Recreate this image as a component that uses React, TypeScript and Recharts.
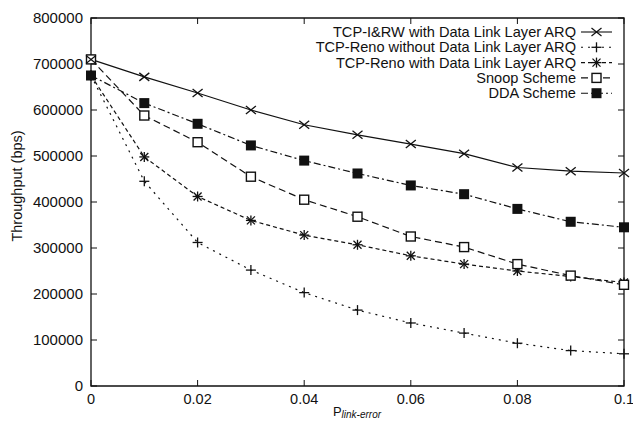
import React from "react";
import { LineChart, Line, XAxis, YAxis, ReferenceArea } from "recharts";

// error probability on the x axis
const pLinkError = [0, 0.01, 0.02, 0.03, 0.04, 0.05, 0.06, 0.07, 0.08, 0.09, 0.1];

// throughput (bps)
const tcpIRW = [710000, 672000, 637000, 600000, 568000, 546000, 526000, 505000, 475000, 467000, 463000];
const renoNoArq = [675000, 445000, 312000, 252000, 203000, 165000, 137000, 115000, 93000, 77000, 70000];
const renoArq = [675000, 498000, 412000, 360000, 328000, 307000, 283000, 265000, 250000, 238000, 225000];
const snoop = [710000, 588000, 530000, 455000, 405000, 368000, 325000, 302000, 265000, 240000, 220000];
const dda = [675000, 615000, 570000, 523000, 490000, 462000, 436000, 417000, 385000, 357000, 345000];

const xTicks = [0, 0.02, 0.04, 0.06, 0.08, 0.1];
const yTicks = [0, 100000, 200000, 300000, 400000, 500000, 600000, 700000, 800000];

type MarkerKind = "cross" | "plus" | "star" | "openSquare" | "square";

interface SeriesDef {
  key: string;
  name: string;
  values: number[];
  dash?: string;
  marker: MarkerKind;
}

// legend order
const series: SeriesDef[] = [
  { key: "irw", name: "TCP-I&RW with Data Link Layer ARQ", values: tcpIRW, marker: "cross" },
  { key: "renoNo", name: "TCP-Reno without Data Link Layer ARQ", values: renoNoArq, dash: "2 5", marker: "plus" },
  { key: "renoArq", name: "TCP-Reno with Data Link Layer ARQ", values: renoArq, dash: "4 3", marker: "star" },
  { key: "snoop", name: "Snoop Scheme", values: snoop, dash: "7 4", marker: "openSquare" },
  { key: "dda", name: "DDA Scheme", values: dda, dash: "7 3 2 3", marker: "square" },
];

const data = pLinkError.map((p, i) => {
  const row: { [k: string]: number } = { p };
  series.forEach((s) => {
    row[s.key] = s.values[i];
  });
  return row;
});

const FONT = "'Liberation Sans', Arial, Helvetica, sans-serif";
const INK = "#111";
const PLOT_TOP = 18;
const PLOT_BOTTOM = 386;
const PLOT_LEFT = 91;
const PLOT_RIGHT = 624;
const TICK = 6;

const Marker = ({ kind, cx, cy }: { kind: MarkerKind; cx: number; cy: number }) => {
  const r = 5;
  switch (kind) {
    case "cross":
      return (
        <g stroke={INK} strokeWidth={1.3}>
          <line x1={cx - r} y1={cy - r + 1} x2={cx + r} y2={cy + r - 1} />
          <line x1={cx - r} y1={cy + r - 1} x2={cx + r} y2={cy - r + 1} />
        </g>
      );
    case "plus":
      return (
        <g stroke={INK} strokeWidth={1.3}>
          <line x1={cx - r} y1={cy} x2={cx + r} y2={cy} />
          <line x1={cx} y1={cy - r} x2={cx} y2={cy + r} />
        </g>
      );
    case "star":
      return (
        <g stroke={INK} strokeWidth={1.3}>
          <line x1={cx - r} y1={cy} x2={cx + r} y2={cy} />
          <line x1={cx} y1={cy - r} x2={cx} y2={cy + r} />
          <line x1={cx - 4} y1={cy - 4} x2={cx + 4} y2={cy + 4} />
          <line x1={cx - 4} y1={cy + 4} x2={cx + 4} y2={cy - 4} />
        </g>
      );
    case "openSquare":
      return <rect x={cx - 4.5} y={cy - 4.5} width={9} height={9} fill="#fff" stroke={INK} strokeWidth={1.4} />;
    default:
      return <rect x={cx - 5} y={cy - 5} width={10} height={10} fill={INK} />;
  }
};

const XTick = (props: any) => {
  const { x, payload } = props;
  return (
    <g>
      <line x1={x} x2={x} y1={PLOT_BOTTOM} y2={PLOT_BOTTOM - TICK} stroke={INK} />
      <line x1={x} x2={x} y1={PLOT_TOP} y2={PLOT_TOP + TICK} stroke={INK} />
      <text x={x} y={PLOT_BOTTOM + 18} textAnchor="middle" fontFamily={FONT} fontSize={14.5} fill={INK}>
        {String(payload.value)}
      </text>
    </g>
  );
};

const YTick = (props: any) => {
  const { y, payload } = props;
  return (
    <g>
      <line x1={PLOT_LEFT} x2={PLOT_LEFT + TICK} y1={y} y2={y} stroke={INK} />
      <line x1={PLOT_RIGHT} x2={PLOT_RIGHT - TICK} y1={y} y2={y} stroke={INK} />
      <text x={PLOT_LEFT - 8} y={y + 5} textAnchor="end" fontFamily={FONT} fontSize={15} fill={INK}>
        {String(payload.value)}
      </text>
    </g>
  );
};

const LegendBox = () => (
  <svg width={633} height={120} style={{ position: "absolute", left: 0, top: 0, pointerEvents: "none" }}>
    {series.map((s, i) => {
      const y = 32 + i * 15.3;
      return (
        <g key={s.key}>
          <text x={576} y={y + 5} textAnchor="end" fontFamily={FONT} fontSize={14.6} fill={INK}>
            {s.name}
          </text>
          <line x1={581} x2={612} y1={y} y2={y} stroke={INK} strokeWidth={1.1} strokeDasharray={s.dash} />
          <Marker kind={s.marker} cx={596.5} cy={y} />
        </g>
      );
    })}
  </svg>
);

// drawing order so the cross sits on top of the open square at p = 0
const drawOrder = ["renoNo", "renoArq", "snoop", "dda", "irw"];

export default function App() {
  return (
    <div style={{ position: "absolute", left: 0, top: 0, width: 633, height: 427, background: "#fff" }}>
      <LineChart width={633} height={427} data={data} margin={{ top: PLOT_TOP, right: 9, bottom: 0, left: 0 }}>
        <XAxis
          dataKey="p"
          type="number"
          domain={[0, 0.1]}
          ticks={xTicks}
          interval={0}
          height={41}
          axisLine={false}
          tickLine={false}
          tick={<XTick />}
        />
        <YAxis
          type="number"
          domain={[0, 800000]}
          ticks={yTicks}
          interval={0}
          width={91}
          axisLine={false}
          tickLine={false}
          tick={<YTick />}
        />
        <ReferenceArea x1={0} x2={0.1} y1={0} y2={800000} fill="none" stroke={INK} strokeWidth={1.3} ifOverflow="visible" />
        {drawOrder.map((k) => {
          const s = series.find((d) => d.key === k)!;
          return (
            <Line
              key={s.key}
              dataKey={s.key}
              name={s.name}
              stroke={INK}
              strokeWidth={1.2}
              strokeDasharray={s.dash}
              isAnimationActive={false}
              dot={(p: any) => <Marker key={`${s.key}-${p.index}`} kind={s.marker} cx={p.cx} cy={p.cy} />}
              activeDot={false}
            />
          );
        })}
      </LineChart>
      <LegendBox />
      <svg width={633} height={427} style={{ position: "absolute", left: 0, top: 0, pointerEvents: "none" }}>
        <text
          transform="translate(22, 186) rotate(-90)"
          textAnchor="middle"
          fontFamily={FONT}
          fontSize={14.5}
          fill={INK}
        >
          Throughput  (bps)
        </text>
        <text x={357} y={416} textAnchor="middle" fontFamily={FONT} fontSize={13} fill={INK}>
          P
          <tspan fontSize={10} fontStyle="italic" dy={2}>
            link-error
          </tspan>
        </text>
      </svg>
    </div>
  );
}
